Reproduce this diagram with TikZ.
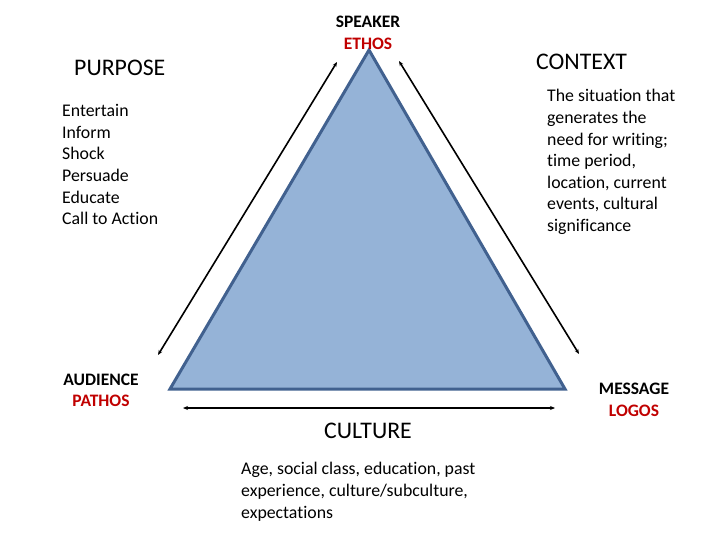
\documentclass[tikz,border=0pt]{standalone}
\usepackage{fontspec}
\setmainfont{Carlito}[Ligatures=NoCommon]
\usetikzlibrary{arrows.meta}
\definecolor{trifill}{HTML}{95B3D7}
\definecolor{triline}{HTML}{41618F}
\definecolor{darkred}{HTML}{C00000}
\tikzset{
  lbl/.style={inner sep=0pt,font=\fontsize{17.5}{21}\selectfont\bfseries},
  txt/.style={inner sep=0pt,align=left,font=\fontsize{17.8}{21.6}\selectfont},
  big/.style={inner sep=0pt,font=\fontsize{23.8}{28}\selectfont},
  dbl/.style={line width=1.6pt,{Stealth[length=5pt,width=4pt]}-{Stealth[length=5pt,width=4pt]}}
}
\begin{document}
\begin{tikzpicture}[x=1pt,y=-1pt]
\useasboundingbox (0,0) rectangle (720,540);
\coordinate (apex) at (369,50);
\coordinate (bl) at (170,389);
\coordinate (br) at (565,389);
\fill[trifill] (apex)--(bl)--(br)--cycle;
\draw[triline,line width=3pt,line join=miter] (apex)--(bl)--(br)--cycle;
\coordinate (la) at (337,62);
\coordinate (lb) at (158,355);
\coordinate (ra) at (399,61);
\coordinate (rb) at (579,354);
\coordinate (ba) at (183,408);
\coordinate (bb) at (555,408);
\draw[dbl] (la)--(lb);
\draw[dbl] (ra)--(rb);
\draw[dbl] (ba)--(bb);
\node[lbl] (speaker) at (368,22) {SPEAKER};
\node[lbl,text=darkred] (ethos) at (368,44) {ETHOS};
\node[big,anchor=west] (purpose) at (74,68) {PURPOSE};
\node[big,anchor=west] (context) at (536,62) {CONTEXT};
\node[txt,anchor=north west] (purposelist) at (62,104.2) {Entertain\\Inform\\Shock\\Persuade\\Educate\\Call to Action};
\node[txt,anchor=north west] (contexttext) at (547,89.3) {The situation that\\generates the\\need for writing;\\time period,\\location, current\\events, cultural\\significance};
\node[lbl] (audience) at (101,380) {AUDIENCE};
\node[lbl,text=darkred] (pathos) at (101,401) {PATHOS};
\node[lbl] (message) at (634,389) {MESSAGE};
\node[lbl,text=darkred] (logos) at (634,411) {LOGOS};
\node[big,anchor=west] (culture) at (324,431) {CULTURE};
\node[txt,anchor=north west] (culturetext) at (241,462.3) {Age, social class, education, past\\experience, culture/subculture,\\expectations};
\end{tikzpicture}
\end{document}
